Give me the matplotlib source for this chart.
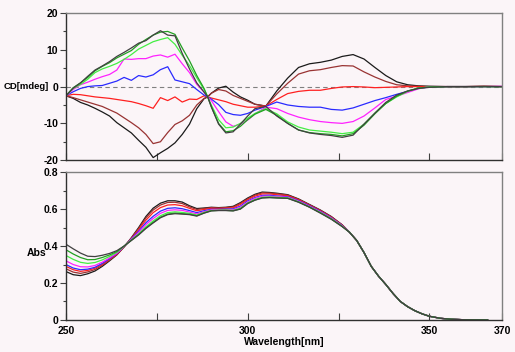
import numpy as np
import matplotlib
matplotlib.use('Agg')
import matplotlib.pyplot as plt
from matplotlib.ticker import MultipleLocator

# ── CD spectra (mdeg) ──
wl_cd = [250, 252, 254, 256, 258, 260, 262, 264, 266, 268, 270, 272, 274, 276,
         278, 280, 282, 284, 286, 288, 289, 290, 292, 294, 296, 298, 300, 302,
         305, 308, 311, 314, 317, 320, 323, 326, 329, 332, 335, 338, 341, 344,
         347, 350, 355, 360, 365, 370]

cd_black1 = [-2.5, -3.2, -4.3, -5.0, -5.9, -6.9, -8.0, -9.8, -11.2, -12.6, -14.6,
             -16.5, -19.3, -18.0, -16.8, -15.3, -13.0, -10.2, -6.0, -3.3, -2.8,
             -1.8, -0.4, 0.1, -1.5, -2.8, -3.7, -4.8, -5.3, -1.2, 2.3, 5.2, 6.2,
             6.6, 7.2, 8.2, 8.7, 7.5, 5.2, 3.0, 1.3, 0.5, 0.2, 0.1, 0.0, 0.0, 0.0, 0.0]
cd_brown = [-2.5, -3.0, -3.6, -4.2, -4.8, -5.4, -6.3, -7.2, -8.5, -9.8, -11.2,
            -13.0, -15.5, -15.0, -12.5, -10.3, -9.3, -7.8, -5.0, -3.2, -2.8,
            -1.8, -0.8, -1.2, -2.4, -3.2, -4.0, -4.8, -5.3, -2.0, 0.9, 3.4, 4.3,
            4.6, 5.2, 5.7, 5.6, 4.0, 2.6, 1.4, 0.5, 0.2, 0.1, 0.0, 0.0, 0.0, 0.0, 0.0]
cd_red = [-2.5, -2.1, -2.2, -2.5, -2.8, -3.0, -3.2, -3.5, -3.8, -4.1, -4.6, -5.2,
          -5.9, -3.0, -3.8, -2.8, -4.2, -3.4, -3.5, -2.5, -2.8, -3.1, -3.6, -4.1,
          -4.8, -5.2, -5.6, -5.6, -5.3, -3.5, -1.9, -1.3, -1.0, -1.0, -0.5, -0.1,
          0.0, -0.1, -0.3, -0.2, -0.1, 0.0, 0.0, 0.0, 0.0, 0.0, 0.1, 0.0]
cd_blue = [-2.5, -1.4, -0.5, 0.0, 0.2, 0.3, 0.9, 1.5, 2.5, 1.7, 3.0, 2.6, 3.2, 4.6,
           5.4, 1.8, 1.3, 0.8, -0.8, -2.3, -2.8, -3.4, -4.9, -7.0, -7.6, -7.8,
           -7.3, -6.4, -5.4, -4.2, -5.0, -5.4, -5.6, -5.6, -6.2, -6.4, -5.8, -4.8,
           -3.8, -3.0, -2.1, -1.3, -0.5, -0.1, 0.0, 0.0, 0.0, 0.0]
cd_magenta = [-2.5, -0.8, 0.5, 1.2, 2.0, 2.7, 3.3, 4.5, 7.5, 7.4, 7.6, 7.6, 8.3,
              8.6, 8.0, 8.8, 6.2, 3.8, 0.6, -1.5, -2.8, -3.8, -6.8, -9.6, -10.8,
              -10.2, -9.1, -7.4, -5.6, -6.0, -7.3, -8.3, -9.0, -9.5, -9.8, -10.0,
              -9.5, -8.0, -5.8, -3.5, -2.6, -1.6, -0.6, 0.0, 0.0, 0.0, 0.0, 0.1]
cd_green = [-2.5, -0.5, 0.6, 2.0, 3.8, 4.8, 5.5, 6.3, 7.4, 8.7, 10.2, 11.2, 12.2,
            12.8, 13.3, 11.5, 8.5, 5.7, 2.4, -0.8, -2.8, -5.0, -9.0, -11.2, -11.0,
            -10.0, -8.6, -7.3, -6.0, -7.4, -9.6, -11.0, -11.8, -12.1, -12.4, -12.8,
            -12.4, -10.2, -7.2, -4.6, -2.8, -1.3, -0.4, -0.1, 0.0, 0.0, 0.0, 0.0]
cd_dkgreen = [-2.5, -0.3, 1.0, 2.5, 4.3, 5.5, 6.5, 7.8, 8.8, 9.8, 11.5, 12.8, 14.0,
              14.8, 15.0, 14.2, 10.5, 7.0, 3.0, -0.5, -2.8, -5.5, -10.0, -12.3,
              -12.0, -10.8, -9.0, -7.5, -6.2, -7.8, -10.0, -11.8, -12.5, -12.8,
              -13.0, -13.4, -12.8, -10.5, -7.4, -4.6, -2.6, -1.2, -0.4, -0.1, 0.0,
              0.0, 0.0, 0.0]
cd_black2 = [-2.5, -0.4, 1.0, 2.8, 4.5, 5.6, 6.8, 8.2, 9.3, 10.5, 11.8, 12.5, 14.0,
             15.2, 14.0, 13.8, 9.0, 4.8, 1.0, -1.5, -2.8, -5.5, -10.2, -12.6, -12.3,
             -10.2, -8.0, -6.0, -5.4, -8.0, -10.0, -11.8, -12.6, -13.0, -13.3, -13.8,
             -13.2, -10.2, -7.2, -4.3, -2.3, -1.2, -0.5, -0.2, 0.0, 0.0, 0.1, 0.0]

# ── Absorbance spectra ──
wl_abs_head = [250, 252, 254, 256, 258, 260, 262, 264, 266, 268, 270, 272, 274,
               276, 278, 280, 282, 284, 286, 288, 290, 292, 294, 296, 298, 300,
               302, 304, 306, 308, 311, 314, 317, 320, 323, 326]
wl_abs_tail = [328, 330, 332, 334, 336, 338, 340, 342, 344, 346, 348, 350, 353,
               356, 360, 366]
abs_tail = [0.475, 0.430, 0.365, 0.290, 0.237, 0.192, 0.143, 0.100, 0.072, 0.050,
            0.033, 0.020, 0.009, 0.004, 0.001, 0.0]

abs_black1 = [0.262, 0.245, 0.240, 0.250, 0.265, 0.290, 0.320, 0.352, 0.395, 0.445,
              0.500, 0.560, 0.605, 0.632, 0.645, 0.645, 0.638, 0.618, 0.603, 0.606,
              0.610, 0.608, 0.610, 0.615, 0.635, 0.660, 0.680, 0.692, 0.690, 0.686,
              0.678, 0.655, 0.625, 0.595, 0.560, 0.515]
abs_brown = [0.277, 0.259, 0.252, 0.260, 0.273, 0.296, 0.324, 0.354, 0.395, 0.443,
             0.495, 0.552, 0.595, 0.622, 0.636, 0.637, 0.630, 0.612, 0.598, 0.603,
             0.608, 0.606, 0.608, 0.612, 0.631, 0.656, 0.676, 0.688, 0.687, 0.683,
             0.676, 0.653, 0.623, 0.593, 0.558, 0.514]
abs_red = [0.290, 0.272, 0.263, 0.268, 0.280, 0.301, 0.328, 0.356, 0.396, 0.441,
           0.488, 0.540, 0.581, 0.608, 0.622, 0.624, 0.618, 0.604, 0.591, 0.598,
           0.604, 0.603, 0.605, 0.607, 0.625, 0.651, 0.670, 0.682, 0.682, 0.678,
           0.672, 0.650, 0.621, 0.591, 0.556, 0.513]
abs_blue = [0.300, 0.281, 0.272, 0.275, 0.285, 0.306, 0.332, 0.360, 0.397, 0.439,
            0.480, 0.526, 0.561, 0.589, 0.604, 0.607, 0.602, 0.592, 0.581, 0.591,
            0.599, 0.599, 0.600, 0.601, 0.616, 0.644, 0.662, 0.674, 0.675, 0.671,
            0.667, 0.646, 0.618, 0.588, 0.553, 0.511]
abs_magenta = [0.320, 0.300, 0.288, 0.287, 0.295, 0.313, 0.336, 0.361, 0.398, 0.436,
               0.474, 0.516, 0.549, 0.577, 0.593, 0.596, 0.593, 0.584, 0.574, 0.586,
               0.596, 0.597, 0.597, 0.597, 0.611, 0.639, 0.658, 0.670, 0.670, 0.668,
               0.664, 0.643, 0.615, 0.585, 0.551, 0.509]
abs_green = [0.349, 0.328, 0.312, 0.306, 0.311, 0.325, 0.344, 0.366, 0.399, 0.433,
             0.466, 0.504, 0.536, 0.564, 0.581, 0.585, 0.582, 0.577, 0.568, 0.582,
             0.593, 0.594, 0.595, 0.593, 0.605, 0.634, 0.652, 0.664, 0.666, 0.664,
             0.661, 0.640, 0.612, 0.582, 0.548, 0.507]
abs_dkgreen = [0.380, 0.357, 0.338, 0.326, 0.327, 0.338, 0.352, 0.370, 0.400, 0.431,
               0.462, 0.498, 0.528, 0.556, 0.573, 0.578, 0.575, 0.572, 0.564, 0.579,
               0.591, 0.593, 0.593, 0.591, 0.601, 0.631, 0.649, 0.661, 0.663, 0.661,
               0.659, 0.638, 0.611, 0.580, 0.546, 0.506]
abs_black2 = [0.410, 0.385, 0.362, 0.345, 0.343, 0.350, 0.360, 0.375, 0.400, 0.430,
              0.460, 0.495, 0.525, 0.553, 0.570, 0.575, 0.573, 0.570, 0.562, 0.578,
              0.590, 0.592, 0.592, 0.590, 0.600, 0.630, 0.648, 0.660, 0.662, 0.660,
              0.658, 0.637, 0.610, 0.578, 0.545, 0.505]

colors = ['#1a1a1a', '#993333', '#ff2020', '#2a2aff', '#ff22ff', '#44ee44',
          '#22a022', '#404040']
cd_series = [cd_black1, cd_brown, cd_red, cd_blue, cd_magenta, cd_green,
             cd_dkgreen, cd_black2]
abs_series = [abs_black1, abs_brown, abs_red, abs_blue, abs_magenta, abs_green,
              abs_dkgreen, abs_black2]

bg = '#fbf5f8'
font = ['Liberation Sans', 'DejaVu Sans']
txt = dict(family=font, fontweight='bold', fontsize=7.5)

fig = plt.figure(figsize=(5.15, 3.52), dpi=100, facecolor=bg)
ax1 = fig.add_axes([0.128, 0.545, 0.847, 0.418], facecolor=bg)
ax2 = fig.add_axes([0.128, 0.091, 0.847, 0.420], facecolor=bg)

ax1.axhline(0, color='#808080', lw=0.8, ls=(0, (4, 3)))
for ys, c in zip(cd_series, colors):
    ax1.plot(wl_cd, ys, color=c, lw=0.9)

wl_abs = wl_abs_head + wl_abs_tail
for ys, c in zip(abs_series, colors):
    ax2.plot(wl_abs, ys + abs_tail, color=c, lw=0.9)

ax1.set_ylim(-20, 20)
ax1.yaxis.set_minor_locator(MultipleLocator(5))
ax2.set_ylim(0, 0.8)
ax2.yaxis.set_minor_locator(MultipleLocator(0.1))

for ax in (ax1, ax2):
    ax.set_xlim(250, 370)
    ax.set_xticks([250, 275, 300, 325, 350, 370])
    ax.tick_params(axis='x', direction='in', length=5, width=0.8, color='#404040')
    ax.tick_params(axis='y', which='major', direction='out', length=4, width=0.8,
                   pad=1.5, color='#404040')
    ax.tick_params(axis='y', which='minor', direction='out', length=2, width=0.8,
                   color='#404040')
    for s in ('top', 'right'):
        ax.spines[s].set_color('#808080')
    for s in ('left', 'bottom'):
        ax.spines[s].set_color('#303030')
    for s in ax.spines.values():
        s.set_linewidth(1.0)

ax1.set_xticklabels([])
ax2.set_xticklabels(['250', '', '300', '', '350', '370'], **txt)
ax2.tick_params(axis='x', pad=4)
ax1.set_yticks([-20, -10, 0, 10, 20])
ax1.set_yticklabels(['-20', '-10', '0', '10', '20'], **txt)
ax2.set_yticks([0, 0.2, 0.4, 0.6, 0.8])
ax2.set_yticklabels(['0', '0.2', '0.4', '0.6', '0.8'], **txt)

ax1.set_ylabel('CD[mdeg]', rotation=0, ha='right', va='center',
               family=font, fontweight='bold', fontsize=6.8)
ax1.yaxis.set_label_coords(-0.038, 0.5)
ax2.set_ylabel('Abs', rotation=0, ha='right', va='center', **txt)
ax2.yaxis.set_label_coords(-0.044, 0.455)
ax2.set_xlabel('Wavelength[nm]', labelpad=1, **txt)

fig.savefig('out.png', dpi=100, facecolor=bg)
